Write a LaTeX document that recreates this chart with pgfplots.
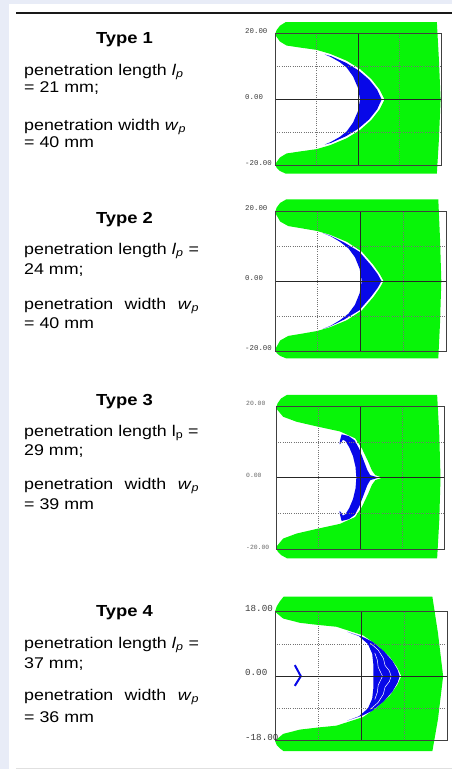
\documentclass[border=0pt]{standalone}
\usepackage{fontspec}
\setmainfont{Liberation Sans}[FakeStretch=1.15]
\newfontfamily\monofont{Liberation Mono}
\usepackage{pgfplots}
\pgfplotsset{compat=1.18}
\definecolor{bgcol}{RGB}{232,236,247}
\definecolor{simgreen}{RGB}{8,245,8}
\definecolor{simblue}{RGB}{8,8,232}
\definecolor{lblgray}{RGB}{60,60,60}
\newcommand\body{\fontsize{15.5bp}{18bp}\selectfont}
\newcommand\ttl{\fontsize{16bp}{18bp}\selectfont\bfseries}
\newlength\Lw
\pgfplotsset{
  panel/.style={
    scale only axis, anchor=south west, xmin=0, xmax=40, clip=false, axis on top,
    xtick={20}, xticklabels={}, minor xtick={10,30},
    xmajorgrids, xminorgrids, ymajorgrids, yminorgrids,
    major grid style={black!85, line width=0.7pt},
    minor grid style={black!55, line width=0.6pt, dash pattern=on 0.7bp off 1.5bp},
    tick style={draw=none},
    axis line style={black!75, line width=0.8pt},
    yticklabel style={anchor=south west, inner sep=0pt, xshift=-30bp, text=lblgray},
  },
  gfill/.style={draw=none, fill=simgreen, forget plot},
  bfill/.style={draw=none, fill=simblue, forget plot},
}
\begin{document}%
\settowidth\Lw{\body penetration length \textit{l}\textsubscript{\textit{p}} =}%
\begin{tikzpicture}
\fill[bgcol] (0,0) rectangle (452bp,-769bp);
\fill[white] (9bp,-4bp) rectangle (452bp,-769bp);
\draw[black!90, line width=1.2bp] (16bp,-13bp) -- (452bp,-13bp);
\draw[black!12, line width=1bp] (16bp,-768.5bp) -- (452bp,-768.5bp);

% ---------- texts ----------
\node[anchor=base, inner sep=0] at (124.5bp,-43bp) {\ttl Type 1};
\node[anchor=base west, inner sep=0] at (24bp,-75.5bp) {\body penetration length \textit{l}\textsubscript{\textit{p}}};
\node[anchor=base west, inner sep=0] at (24bp,-92bp) {\body = 21 mm;};
\node[anchor=base west, inner sep=0] at (24bp,-130bp) {\body penetration width \textit{w}\textsubscript{\textit{p}}};
\node[anchor=base west, inner sep=0] at (24bp,-147.5bp) {\body = 40 mm};

\node[anchor=base, inner sep=0] at (124.5bp,-223bp) {\ttl Type 2};
\node[anchor=base west, inner sep=0] at (24bp,-254.5bp) {\body penetration length \textit{l}\textsubscript{\textit{p}} =};
\node[anchor=base west, inner sep=0] at (24bp,-274bp) {\body 24 mm;};
\node[anchor=base west, inner sep=0] at (24bp,-309.5bp) {\body\makebox[\Lw][s]{penetration width \textit{w}\textsubscript{\textit{p}}}};
\node[anchor=base west, inner sep=0] at (24bp,-328bp) {\body = 40 mm};

\node[anchor=base, inner sep=0] at (124.5bp,-405bp) {\ttl Type 3};
\node[anchor=base west, inner sep=0] at (24bp,-436bp) {\body penetration length l\textsubscript{p} =};
\node[anchor=base west, inner sep=0] at (24bp,-455bp) {\body 29 mm;};
\node[anchor=base west, inner sep=0] at (24bp,-489.5bp) {\body\makebox[\Lw][s]{penetration width \textit{w}\textsubscript{\textit{p}}}};
\node[anchor=base west, inner sep=0] at (24bp,-509.5bp) {\body = 39 mm};

\node[anchor=base, inner sep=0] at (124.5bp,-616.5bp) {\ttl Type 4};
\node[anchor=base west, inner sep=0] at (24bp,-648bp) {\body penetration length \textit{l}\textsubscript{\textit{p}} =};
\node[anchor=base west, inner sep=0] at (24bp,-668bp) {\body 37 mm;};
\node[anchor=base west, inner sep=0] at (24bp,-700.5bp) {\body\makebox[\Lw][s]{penetration width \textit{w}\textsubscript{\textit{p}}}};
\node[anchor=base west, inner sep=0] at (24bp,-722.5bp) {\body = 36 mm};

% ---------- panel 1 ----------
\begin{axis}[panel, at={(275bp,-165.7bp)}, width=166bp, height=132.4bp,
  ymin=-20, ymax=20, ytick={-20,0,20}, yticklabels={-20.00,0.00,20.00}, minor ytick={-10,10},
  yticklabel style={font=\monofont\fontsize{7.4bp}{8bp}\selectfont}]
\addplot[gfill] coordinates {(0,19.6) (0.4,21.0) (1.2,22.3) (2.6,23.4) (39.0,23.4) (39.5,12) (39.9,0) (39.5,-12) (39.0,-22.4) (2.6,-22.4) (1.2,-21.6) (0.4,-20.6) (0,-19.6) (1.2,-17.5) (2.8,-16.3) (6.0,-15.7) (10.0,-15.0) (13.3,-13.8) (17.3,-11.7) (20.5,-9.2) (23.2,-6.2) (25.2,-3.0) (26.4,0) (25.2,3.0) (23.2,6.2) (20.5,9.2) (17.3,11.7) (13.3,13.8) (10.0,15.0) (6.0,15.7) (2.8,16.3) (1.2,17.5)} -- cycle;
\addplot[bfill] coordinates {(12.0,13.6) (13.5,13.1) (17.1,11.1) (20.1,8.8) (22.7,6.0) (24.6,3.0) (25.7,0) (24.6,-3.0) (22.7,-6.0) (20.1,-8.8) (17.1,-11.1) (13.5,-13.1) (12.0,-13.6) (13.5,-12.8) (15.6,-11.3) (17.3,-9.6) (18.8,-7.0) (20.0,-3.5) (20.5,0) (20.0,3.5) (18.8,7.0) (17.3,9.6) (15.6,11.3) (13.5,12.8)} -- cycle;
\end{axis}

% ---------- panel 2 ----------
\begin{axis}[panel, at={(275bp,-351bp)}, width=171bp, height=140bp,
  ymin=-20, ymax=20, ytick={-20,0,20}, yticklabels={-20.00,0.00,20.00}, minor ytick={-10,10},
  yticklabel style={font=\monofont\fontsize{7.4bp}{8bp}\selectfont}]
\addplot[gfill] coordinates {(0,19.6) (0.4,21.0) (1.2,22.3) (2.6,23.3) (38.2,23.3) (38.6,12) (38.9,0) (38.6,-12) (38.2,-22.1) (2.6,-22.1) (1.2,-21.4) (0.4,-20.6) (0,-19.6) (1.2,-17.0) (3.1,-15.7) (6.5,-15.0) (9.8,-14.3) (12.9,-13.2) (16.8,-11.2) (20.3,-8.4) (23.0,-4.6) (24.5,-2.0) (25.4,0) (24.5,2.0) (23.0,4.6) (20.3,8.4) (16.8,11.2) (12.9,13.2) (9.8,14.3) (6.5,15.0) (3.1,15.7) (1.2,17.0)} -- cycle;
\addplot[bfill] coordinates {(11.2,13.7) (13.0,12.9) (16.2,11.0) (19.7,8.4) (22.4,4.6) (24.0,2.0) (24.9,0) (24.0,-2.0) (22.4,-4.6) (19.7,-8.4) (16.2,-11.0) (13.0,-12.9) (11.2,-13.7) (13.0,-12.8) (15.2,-11.2) (17.2,-9.3) (18.7,-6.8) (19.8,-3.5) (20.3,0) (19.8,3.5) (18.7,6.8) (17.2,9.3) (15.2,11.2) (13.0,12.8)} -- cycle;
\end{axis}

% ---------- panel 3 ----------
\begin{axis}[panel, at={(276bp,-549.3bp)}, width=168.3bp, height=143.3bp,
  ymin=-20, ymax=20, ytick={-20,0,20}, yticklabels={-20.00,0.00,20.00}, minor ytick={-10,10},
  yticklabel style={font=\monofont\fontsize{6.4bp}{7bp}\selectfont, text=black!60}]
\addplot[gfill] coordinates {(0,19.4) (0.4,20.8) (1.2,22.1) (2.6,23.1) (38.3,23.1) (38.8,12) (39.1,0) (38.8,-12) (38.3,-22.5) (2.6,-22.5) (1.2,-21.6) (0.4,-20.6) (0,-19.4) (1.7,-17.0) (4.9,-15.6) (9.7,-14.3) (15.2,-12.9) (18.8,-11.0) (20.4,-8.2) (21.9,-4.5) (22.8,-2.0) (23.6,-0.7) (25.3,0) (23.6,0.7) (22.8,2.0) (21.9,4.5) (20.4,8.2) (18.8,11.0) (15.2,12.9) (9.7,14.3) (4.9,15.6) (1.7,17.0)} -- cycle;
\addplot[bfill] coordinates {(15.6,12.1) (17.3,11.6) (18.7,10.4) (19.8,8.0) (20.9,4.6) (21.7,2.1) (22.4,0.7) (24.4,0) (22.4,-0.7) (21.7,-2.1) (20.9,-4.6) (19.8,-8.0) (18.7,-10.4) (17.3,-11.6) (15.6,-12.1) (15.2,-10.3) (15.1,-9.3) (15.4,-9.6) (15.9,-10.6) (16.5,-10.2) (17.4,-8.5) (18.3,-6.0) (18.9,-3.0) (19.1,0) (18.9,3.0) (18.3,6.0) (17.4,8.5) (16.5,10.2) (15.9,10.6) (15.4,9.6) (15.1,9.3) (15.2,10.3)} -- cycle;
\end{axis}

% ---------- panel 4 ----------
\begin{axis}[panel, at={(275bp,-740.7bp)}, width=172bp, height=129bp,
  ymin=-18, ymax=18, ytick={-18,0,18}, yticklabels={-18.00,0.00,18.00}, minor ytick={-9,9},
  yticklabel style={font=\monofont\fontsize{9.2bp}{10bp}\selectfont}]
\addplot[gfill] coordinates {(0,18.0) (0.4,19.5) (1.2,21.0) (2.0,22.2) (36.6,22.2) (37.9,12) (39.1,0) (37.9,-12) (36.6,-20.9) (2.0,-20.9) (1.2,-20.2) (0.4,-19.2) (0,-18.0) (1.9,-16.1) (5.8,-14.9) (10.1,-14.3) (14.3,-13.8) (17.4,-12.6) (20.5,-11.4) (23.6,-8.8) (26.7,-5.4) (28.4,-2.5) (29.4,0) (28.4,2.5) (26.7,5.4) (23.6,8.8) (20.5,11.4) (17.4,12.6) (14.3,13.8) (10.1,14.3) (5.8,14.9) (1.9,16.1)} -- cycle;
\addplot[bfill] coordinates {(16.8,12.4) (20.3,11.0) (22.7,9.6) (25.3,7.0) (27.3,4.3) (28.5,1.8) (29.0,0) (28.5,-1.8) (27.3,-4.3) (25.3,-7.0) (22.7,-9.6) (20.3,-11.0) (16.8,-12.4) (19.5,-11.2) (21.6,-9.0) (22.6,-6.3) (22.9,-3.0) (22.9,0) (22.9,3.0) (22.6,6.3) (21.6,9.0) (19.5,11.2)} -- cycle;
\addplot[white, line width=0.5pt, forget plot] coordinates {(22.2,9.2) (24.0,7.3) (25.2,5.0) (25.6,3.0) (26.6,1.5) (27.0,0) (26.6,-1.5) (25.6,-3.0) (25.2,-5.0) (24.0,-7.3) (22.2,-9.2)};
\addplot[white, line width=0.5pt, forget plot] coordinates {(23.2,6.5) (23.8,4.5) (24.0,2.5) (24.6,1.0) (25.0,0) (24.6,-1.0) (24.0,-2.5) (23.8,-4.5) (23.2,-6.5)};
\addplot[simblue, line width=2pt, forget plot] coordinates {(4.6,3.1) (6.0,0) (4.6,-2.7)};
\end{axis}
\pgfresetboundingbox
\useasboundingbox (0,0) rectangle (452bp,-769bp);
\end{tikzpicture}%
\end{document}
